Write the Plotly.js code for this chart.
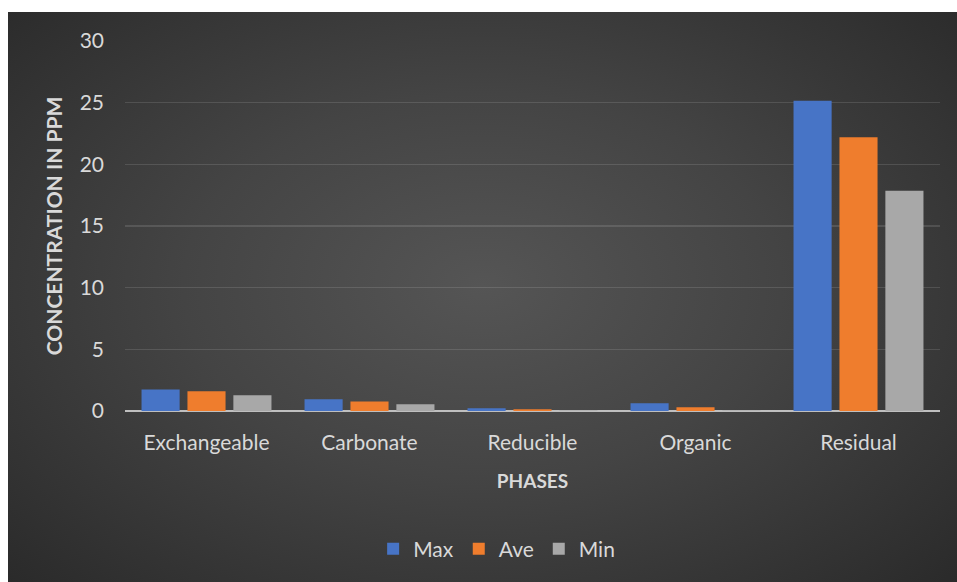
<!DOCTYPE html>
<html>
<head>
<meta charset="utf-8">
<script src="https://cdn.plot.ly/plotly-3.0.1.min.js"></script>
<style>
  html, body { margin: 0; padding: 0; background: #ffffff; width: 957px; height: 582px; overflow: hidden; }
  #bg { position: absolute; left: 8px; top: 12px; width: 949px; height: 570px;
        background: radial-gradient(ellipse 70% 75% at 50% 48%, #555555 0%, #444444 45%, #2a2a2a 100%); }
  #chart { position: absolute; left: 0; top: 0; width: 957px; height: 582px; }
</style>
</head>
<body>
<div id="bg"></div>
<div id="chart"></div>
<script>
const categories = ["Exchangeable", "Carbonate", "Reducible", "Organic", "Residual"];
const maxValues = [1.75, 0.95, 0.22, 0.62, 25.15];
const aveValues = [1.6, 0.78, 0.14, 0.3, 22.2];
const minValues = [1.27, 0.54, 0.05, 0.05, 17.85];
const yTicks = [0, 5, 10, 15, 20, 25, 30];

const font = "Lato, 'Open Sans', sans-serif";
const traces = [
  { type: "bar", name: "Max", x: categories, y: maxValues, marker: { color: "#4774c6" } },
  { type: "bar", name: "Ave", x: categories, y: aveValues, marker: { color: "#ef7d2d" } },
  { type: "bar", name: "Min", x: categories, y: minValues, marker: { color: "#a8a8a8" } }
];
const layout = {
  width: 957, height: 582,
  paper_bgcolor: "rgba(0,0,0,0)", plot_bgcolor: "rgba(0,0,0,0)",
  margin: { l: 125, r: 17, t: 41, b: 171 },
  barmode: "group", bargap: 0.155, bargroupgap: 0.17,
  font: { family: font, color: "#d9d9d9", size: 21 },
  xaxis: {
    type: "category", showgrid: false, zeroline: false,
    showline: false, ticks: "", ticklabelstandoff: 17,
    tickfont: { size: 21, color: "#d9d9d9" },
    title: { text: "PHASES", font: { size: 19, color: "#d9d9d9", family: font, weight: "bold" }, standoff: 21 },
    automargin: false
  },
  yaxis: {
    range: [0, 30], tickvals: yTicks, ticktext: yTicks.map(String),
    showgrid: true, gridcolor: "rgba(255,255,255,0.12)", gridwidth: 1.5,
    zeroline: true, zerolinecolor: "#bfbfbf", zerolinewidth: 2.5,
    showline: false, ticks: "", ticklabelstandoff: 20,
    tickfont: { size: 21, color: "#d9d9d9" },
    title: { text: "CONCENTRATION IN PPM", font: { size: 21, color: "#d9d9d9", family: font, weight: "bold" }, standoff: 11 },
    automargin: false
  },
  legend: {
    orientation: "h", x: 0.456, xanchor: "center", y: -0.373, yanchor: "middle",
    font: { size: 21, color: "#d9d9d9" }, itemwidth: 30, traceorder: "normal",
    bgcolor: "rgba(0,0,0,0)"
  },
  showlegend: true
};
Plotly.newPlot("chart", traces, layout, { displayModeBar: false, staticPlot: true });
</script>
</body>
</html>
